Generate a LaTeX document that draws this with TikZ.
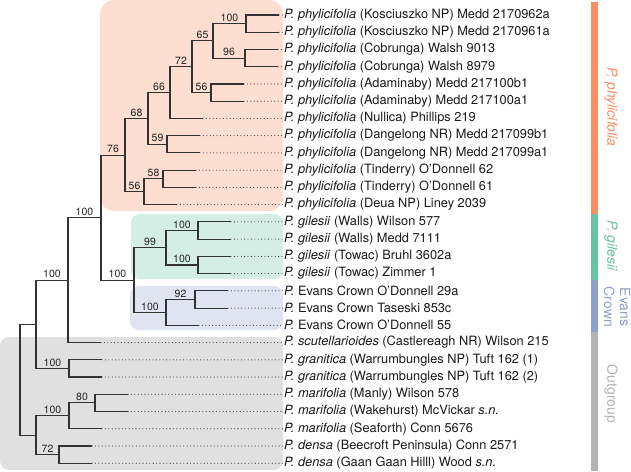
\documentclass[tikz,border=0pt]{standalone}
\usepackage{fontspec}
\setmainfont{TeX Gyre Heros}
\usetikzlibrary{positioning}

\definecolor{phycol}{HTML}{FC8D62}
\definecolor{gilcol}{HTML}{66C2A5}
\definecolor{evacol}{HTML}{8DA0CB}
\definecolor{outcol}{HTML}{B3B3B3}

\begin{document}
\begin{tikzpicture}[x=1pt,y=-1pt]
    \tikzstyle{branch}=[draw=black!80,line width=1.1pt]
    \tikzstyle{tipline}=[draw=black!80,line width=1.1pt,line cap=round,
                         dash pattern=on 0pt off 3.4pt]
    \tikzstyle{support}=[above,inner sep=1.6pt,text=black!85,
                         font=\fontsize{10.5}{12}\selectfont]
    \tikzstyle{taxon}=[anchor=west,inner sep=1pt,text=black!90,
                       font=\fontsize{12.8}{15}\selectfont]
    \tikzstyle{cladebox}=[rounded corners=9pt]
    \tikzstyle{cladename}=[rotate=-90,align=center,inner sep=0pt,
                           font=\fontsize{14}{16}\selectfont]

    \useasboundingbox (0,0) rectangle (631,471);

    % Draw clade boxes behind the tree
    \fill[cladebox,phycol!29,rounded corners=14pt] (100,0) rectangle (283,211);
    \fill[cladebox,gilcol!28] (131,214) rectangle (283,279);
    \fill[cladebox,evacol!28] (130,286) rectangle (283,330);
    \fill[cladebox,black!12] (0,337) rectangle (283,470);

    % Draw clade bars on the right
    \fill[phycol] (591,2) rectangle (598,214);
    \fill[gilcol] (591,214) rectangle (598,280);
    \fill[evacol] (591,280) rectangle (598,332);
    \fill[outcol] (591,332) rectangle (598,471);

    \node[cladename,text=phycol] (phyname) at (611,107) {\textit{P. phylicifolia}};
    \node[cladename,text=gilcol] (gilname) at (611,246) {\textit{P. gilesii}};
    \node[cladename,text=evacol] (evaname) at (617,307) {Evans\\Crown};
    \node[cladename,text=outcol] (outname) at (611,394) {Outgroup};

    % Draw taxon labels
    \node[taxon] (l1) at (283,15.00) {\textit{P. phylicifolia} (Kosciuszko NP) Medd 2170962a};
    \node[taxon] (l2) at (283,32.24) {\textit{P. phylicifolia} (Kosciuszko NP) Medd 2170961a};
    \node[taxon] (l3) at (283,49.48) {\textit{P. phylicifolia} (Cobrunga) Walsh 9013};
    \node[taxon] (l4) at (283,66.72) {\textit{P. phylicifolia} (Cobrunga) Walsh 8979};
    \node[taxon] (l5) at (283,83.96) {\textit{P. phylicifolia} (Adaminaby) Medd 217100b1};
    \node[taxon] (l6) at (283,101.20) {\textit{P. phylicifolia} (Adaminaby) Medd 217100a1};
    \node[taxon] (l7) at (283,118.44) {\textit{P. phylicifolia} (Nullica) Phillips 219};
    \node[taxon] (l8) at (283,135.68) {\textit{P. phylicifolia} (Dangelong NR) Medd 217099b1};
    \node[taxon] (l9) at (283,152.92) {\textit{P. phylicifolia} (Dangelong NR) Medd 217099a1};
    \node[taxon] (l10) at (283,170.16) {\textit{P. phylicifolia} (Tinderry) O’Donnell 62};
    \node[taxon] (l11) at (283,187.40) {\textit{P. phylicifolia} (Tinderry) O’Donnell 61};
    \node[taxon] (l12) at (283,204.64) {\textit{P. phylicifolia} (Deua NP) Liney 2039};
    \node[taxon] (l13) at (283,221.88) {\textit{P. gilesii} (Walls) Wilson 577};
    \node[taxon] (l14) at (283,239.12) {\textit{P. gilesii} (Walls) Medd 7111};
    \node[taxon] (l15) at (283,256.36) {\textit{P. gilesii} (Towac) Bruhl 3602a};
    \node[taxon] (l16) at (283,273.60) {\textit{P. gilesii} (Towac) Zimmer 1};
    \node[taxon] (l17) at (283,290.84) {\textit{P.} Evans Crown O’Donnell 29a};
    \node[taxon] (l18) at (283,308.08) {\textit{P.} Evans Crown Taseski 853c};
    \node[taxon] (l19) at (283,325.32) {\textit{P.} Evans Crown O’Donnell 55};
    \node[taxon] (l20) at (283,342.56) {\textit{P. scutellarioides} (Castlereagh NR) Wilson 215};
    \node[taxon] (l21) at (283,359.80) {\textit{P. granitica} (Warrumbungles NP) Tuft 162 (1)};
    \node[taxon] (l22) at (283,377.04) {\textit{P. granitica} (Warrumbungles NP) Tuft 162 (2)};
    \node[taxon] (l23) at (283,394.28) {\textit{P. marifolia} (Manly) Wilson 578};
    \node[taxon] (l24) at (283,411.52) {\textit{P. marifolia} (Wakehurst) McVickar \textit{s.n.}};
    \node[taxon] (l25) at (283,428.76) {\textit{P. marifolia} (Seaforth) Conn 5676};
    \node[taxon] (l26) at (283,446.00) {\textit{P. densa} (Beecroft Peninsula) Conn 2571};
    \node[taxon] (l27) at (283,463.24) {\textit{P. densa} (Gaan Gaan Hilll) Wood \textit{s.n.}};

    % Branch tips
    \coordinate (t1) at (279,15.00);
    \coordinate (t2) at (279,32.24);
    \coordinate (t3) at (278,49.48);
    \coordinate (t4) at (278,66.72);
    \coordinate (t5) at (244,83.96);
    \coordinate (t6) at (244,101.20);
    \coordinate (t7) at (203,118.44);
    \coordinate (t8) at (200,135.68);
    \coordinate (t9) at (200,152.92);
    \coordinate (t10) at (196,170.16);
    \coordinate (t11) at (196,187.40);
    \coordinate (t12) at (177,204.64);
    \coordinate (t13) at (231,221.88);
    \coordinate (t14) at (231,239.12);
    \coordinate (t15) at (231,256.36);
    \coordinate (t16) at (231,273.60);
    \coordinate (t17) at (228,290.84);
    \coordinate (t18) at (228,308.08);
    \coordinate (t19) at (199,325.32);
    \coordinate (t20) at (101,342.56);
    \coordinate (t21) at (102,359.80);
    \coordinate (t22) at (102,377.04);
    \coordinate (t23) at (128,394.28);
    \coordinate (t24) at (128,411.52);
    \coordinate (t25) at (102,428.76);
    \coordinate (t26) at (92,446.00);
    \coordinate (t27) at (92,463.24);

    % Internal nodes
    \coordinate (kos) at (246,23.62);
    \coordinate (cob) at (245,58.10);
    \coordinate (kc) at (213,40.86);
    \coordinate (ada) at (211,92.58);
    \coordinate (kca) at (192,66.72);
    \coordinate (kcan) at (170,92.58);
    \coordinate (dan) at (167,144.30);
    \coordinate (upper) at (148,118.44);
    \coordinate (tin) at (163,178.78);
    \coordinate (lower) at (144,191.71);
    \coordinate (phy) at (125,155.08);
    \coordinate (walls) at (198,230.50);
    \coordinate (towac) at (198,264.98);
    \coordinate (gil) at (166,247.74);
    \coordinate (eva) at (195,299.46);
    \coordinate (evans) at (166,312.39);
    \coordinate (ge) at (134,280.07);
    \coordinate (ingroup) at (101,217.57);
    \coordinate (scut) at (68,280.07);
    \coordinate (gra) at (69,368.42);
    \coordinate (sg) at (36,324.24);
    \coordinate (mar2) at (95,402.90);
    \coordinate (mar) at (69,415.83);
    \coordinate (den) at (59,454.62);
    \coordinate (md) at (36,435.23);
    \coordinate (root) at (20,379.74);

    % Draw dotted leaders to the labels
    \foreach \i in {1,...,27}
        \draw[tipline] (t\i) -- (l\i.west);

    % Draw P. phylicifolia clade
    \draw[branch] (kos) |- (t1);
    \draw[branch] (kos) |- (t2);
    \draw[branch] (cob) |- (t3);
    \draw[branch] (cob) |- (t4);
    \draw[branch] (kc) |- (kos) node[support,pos=.75] {100};
    \draw[branch] (kc) |- (cob) node[support,pos=.75] {96};
    \draw[branch] (ada) |- (t5);
    \draw[branch] (ada) |- (t6);
    \draw[branch] (kca) |- (kc) node[support,pos=.75] {65};
    \draw[branch] (kca) |- (ada) node[support,pos=.75] {56};
    \draw[branch] (kcan) |- (kca) node[support,pos=.75] {72};
    \draw[branch] (kcan) |- (t7);
    \draw[branch] (dan) |- (t8);
    \draw[branch] (dan) |- (t9);
    \draw[branch] (upper) |- (kcan) node[support,pos=.75] {66};
    \draw[branch] (upper) |- (dan) node[support,pos=.75] {59};
    \draw[branch] (tin) |- (t10);
    \draw[branch] (tin) |- (t11);
    \draw[branch] (lower) |- (tin) node[support,pos=.75] {58};
    \draw[branch] (lower) |- (t12);
    \draw[branch] (phy) |- (upper) node[support,pos=.75] {68};
    \draw[branch] (phy) |- (lower) node[support,pos=.75] {56};

    % Draw P. gilesii and Evans Crown clades
    \draw[branch] (walls) |- (t13);
    \draw[branch] (walls) |- (t14);
    \draw[branch] (towac) |- (t15);
    \draw[branch] (towac) |- (t16);
    \draw[branch] (gil) |- (walls) node[support,pos=.75] {100};
    \draw[branch] (gil) |- (towac) node[support,pos=.75] {100};
    \draw[branch] (eva) |- (t17);
    \draw[branch] (eva) |- (t18);
    \draw[branch] (evans) |- (eva) node[support,pos=.75] {92};
    \draw[branch] (evans) |- (t19);
    \draw[branch] (ge) |- (gil) node[support,pos=.75] {99};
    \draw[branch] (ge) |- (evans) node[support,pos=.75] {100};
    \draw[branch] (ingroup) |- (phy) node[support,pos=.75] {76};
    \draw[branch] (ingroup) |- (ge) node[support,pos=.75] {100};

    % Draw outgroup
    \draw[branch] (scut) |- (ingroup) node[support,pos=.75] {100};
    \draw[branch] (scut) |- (t20);
    \draw[branch] (gra) |- (t21);
    \draw[branch] (gra) |- (t22);
    \draw[branch] (sg) |- (scut) node[support,pos=.75] {100};
    \draw[branch] (sg) |- (gra) node[support,pos=.75] {100};
    \draw[branch] (mar2) |- (t23);
    \draw[branch] (mar2) |- (t24);
    \draw[branch] (mar) |- (mar2) node[support,pos=.75] {80};
    \draw[branch] (mar) |- (t25);
    \draw[branch] (den) |- (t26);
    \draw[branch] (den) |- (t27);
    \draw[branch] (md) |- (mar) node[support,pos=.75] {100};
    \draw[branch] (md) |- (den) node[support,pos=.75] {72};
    \draw[branch] (root) |- (sg);
    \draw[branch] (root) |- (md);
\end{tikzpicture}
\end{document}
